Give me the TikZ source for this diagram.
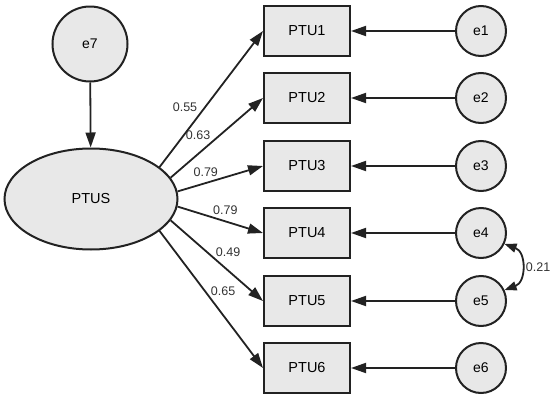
\documentclass[tikz,border=0pt]{standalone}
\usepackage{fontspec}
\setmainfont{Liberation Sans}
\usetikzlibrary{arrows.meta,shapes.geometric}

\definecolor{shade}{HTML}{E8E8E8}
\definecolor{ink}{HTML}{222222}

\begin{document}
\begin{tikzpicture}[
  x=1pt, y=-1pt,
  box/.style={draw=ink, line width=2pt, fill=shade, minimum width=86pt,
              minimum height=50pt, font=\fontsize{14.5}{16}\selectfont},
  err/.style={circle, draw=ink, line width=2pt, fill=shade, minimum size=50pt,
              inner sep=0pt, font=\fontsize{14}{16}\selectfont},
  arrow/.style={-{Triangle[length=15pt,width=10pt]}, line width=1.8pt, draw=ink},
  coef/.style={font=\fontsize{12.5}{14}\selectfont, text=black!80, inner sep=1pt}
]
\useasboundingbox (0,0) rectangle (550,402);

% latent factor and its residual
\node[ellipse, draw=ink, line width=2pt, fill=shade, minimum width=173pt,
      minimum height=101pt, inner sep=0pt, font=\fontsize{14.5}{16}\selectfont]
      (ptus) at (91,199) {PTUS};
\node[err, minimum size=75pt] (e7) at (90,44) {e7};

% indicators
\node[box] (ptu1) at (307,31)  {PTU1};
\node[box] (ptu2) at (307,98)  {PTU2};
\node[box] (ptu3) at (307,166) {PTU3};
\node[box] (ptu4) at (307,233) {PTU4};
\node[box] (ptu5) at (307,301) {PTU5};
\node[box] (ptu6) at (307,368) {PTU6};

% error terms
\node[err] (e1) at (481,31)  {e1};
\node[err] (e2) at (481,98)  {e2};
\node[err] (e3) at (481,166) {e3};
\node[err] (e4) at (481,233) {e4};
\node[err] (e5) at (481,301) {e5};
\node[err] (e6) at (481,368) {e6};

\draw[arrow] (e7) -- (ptus);

% loadings
\draw[arrow] (ptus.25)  -- node[coef, pos=.44, anchor=east, xshift=-6pt]{0.55} (ptu1.west);
\draw[arrow] (ptus.15)  -- node[coef, pos=.45, anchor=south east]{0.63} (ptu2.west);
\draw[arrow] (ptus.5)   -- node[coef, pos=.33, above=5pt]{0.79} (ptu3.west);
\draw[arrow] (ptus.-5)  -- node[coef, pos=.56, above=5pt]{0.79} (ptu4.west);
\draw[arrow] (ptus.-15) -- node[coef, pos=.47, anchor=south west]{0.49} (ptu5.west);
\draw[arrow] (ptus.-25) -- node[coef, pos=.44, anchor=west, xshift=4pt]{0.65} (ptu6.west);

\draw[arrow] (e1) -- (ptu1);
\draw[arrow] (e2) -- (ptu2);
\draw[arrow] (e3) -- (ptu3);
\draw[arrow] (e4) -- (ptu4);
\draw[arrow] (e5) -- (ptu5);
\draw[arrow] (e6) -- (ptu6);

% covariance
\draw[{Triangle[length=12pt,width=9pt]}-{Triangle[length=12pt,width=9pt]}, line width=1.8pt, draw=ink]
  (e4.-25) to[out=-20, in=20, looseness=1.3] node[coef, pos=.5, anchor=west, inner sep=4pt]{0.21} (e5.25);
\end{tikzpicture}
\end{document}
